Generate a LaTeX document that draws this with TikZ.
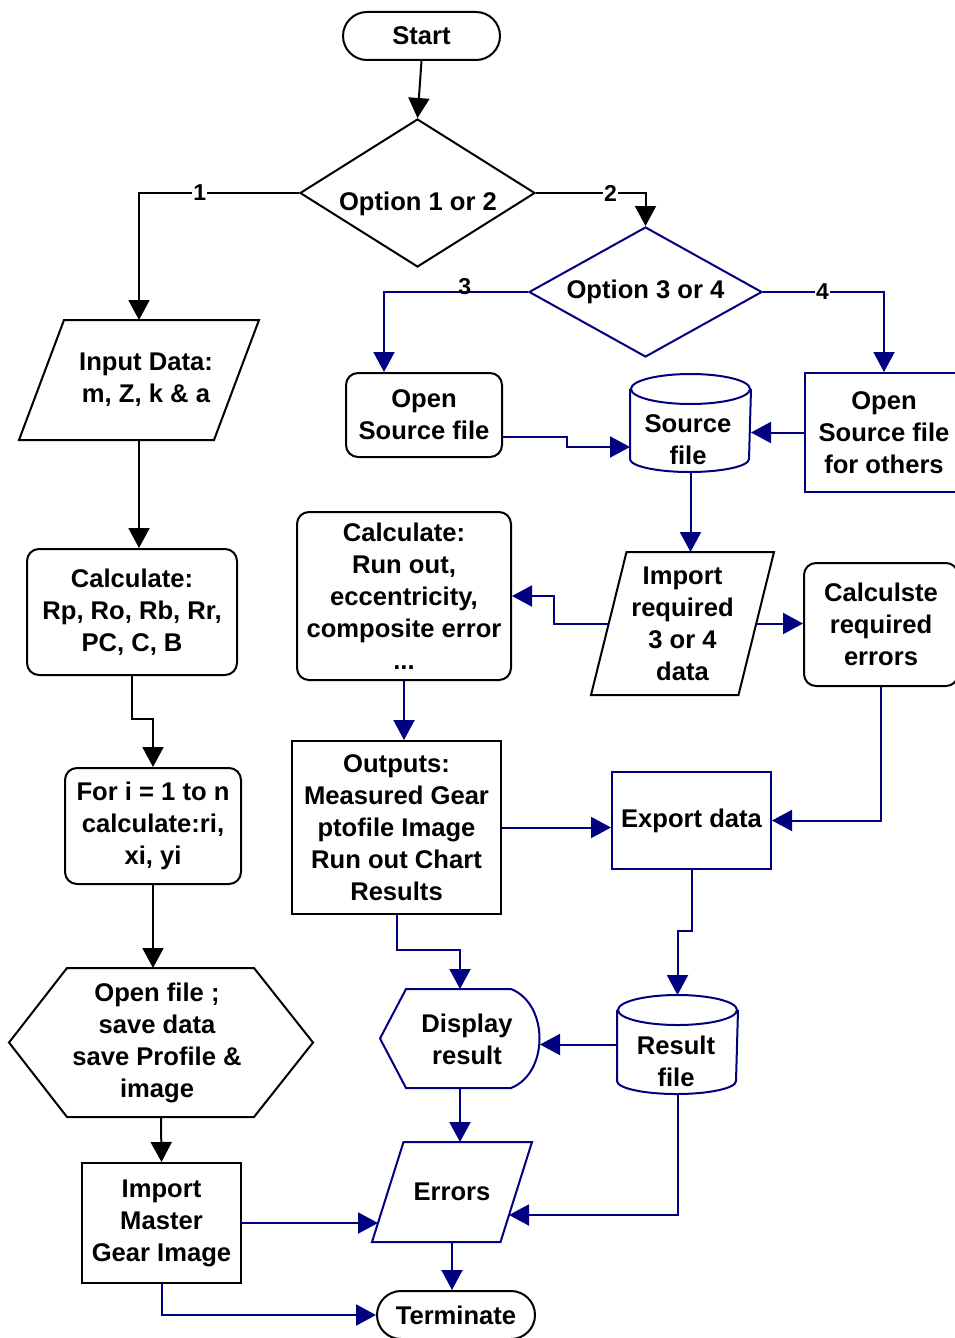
\documentclass[tikz,border=0pt]{standalone}
\usepackage{fontspec}
\setmainfont{Liberation Sans}
\usetikzlibrary{shapes.geometric,arrows.meta,calc}
\definecolor{nvy}{RGB}{0,0,128}
\tikzset{
 base/.style={font=\fontsize{25.6}{32}\selectfont\bfseries, align=center, inner sep=0pt, line width=2pt},
 bk/.style={base, draw=black},
 nb/.style={base, draw=nvy},
 bx/.style={base},
 rnd/.style={rounded corners=12pt},
 wire/.style={line width=2pt, color=black, -{Triangle[length=20pt,width=21pt]}},
 nwire/.style={line width=2pt, color=nvy, -{Triangle[length=20pt,width=21pt]}},
 lbl/.style={font=\fontsize{23}{23}\selectfont\bfseries, text=black, fill=white, inner sep=1pt},
 shpk/.style={line width=2pt, draw=black},
 shpn/.style={line width=2pt, draw=nvy}
}
\begin{document}
\begin{tikzpicture}[x=1pt,y=-1pt]
\useasboundingbox (0,0) rectangle (955,1338);

% ---- nodes ----
\node[bk, rounded corners=24pt, minimum width=157pt, minimum height=48pt] (start) at (421.5,36) {Start};
\node[bk, diamond, aspect=1.59, minimum width=235pt, minimum height=148pt] (opt1) at (417.5,193) {};
\node[base] (opt1t) at (418,204) {Option 1 or 2};
\node[nb, diamond, aspect=1.79, minimum width=233pt, minimum height=130pt] (opt3) at (645.5,292) {Option 3 or 4};

\node[bx, minimum width=238pt, minimum height=118pt] (inp) at (139,380) {};
\node[base] (inpt) at (146,380) {Input Data:\\m, Z, k \& a};
\node[bk, rnd, minimum width=210pt, minimum height=126pt] (crp) at (132,612) {Calculate:\\Rp, Ro, Rb, Rr,\\PC, C, B};
\node[bk, rnd, minimum width=176pt, minimum height=116pt] (fori) at (153,826) {For i = 1 to n\\calculate:ri,\\xi, yi};
\node[bx, minimum width=302pt, minimum height=147pt] (hex) at (161,1042.5) {};
\node[base] (hext) at (157,1043) {Open file ;\\save data\\save Profile \&\\image};
\node[bk, minimum width=159pt, minimum height=120pt] (img) at (161.5,1223) {Import\\Master\\Gear Image};
\node[bk, rounded corners=24pt, minimum width=158pt, minimum height=48pt] (term) at (456,1315) {Terminate};

\node[bk, rnd, minimum width=156pt, minimum height=84pt] (osf) at (424,415) {Open\\Source file};
\node[bx, minimum width=119pt, minimum height=96pt] (srcf) at (690.5,423) {};
\node[base] (srcft) at (688,440) {Source\\file};
\node[nb, minimum width=158pt, minimum height=119pt] (osfo) at (884,432.5) {Open\\Source file\\for others};

\node[bx, minimum width=181pt, minimum height=141pt] (imp) at (682.5,623.5) {Import\\required\\3 or 4\\data};
\node[bk, rnd, minimum width=214pt, minimum height=168pt] (cro) at (404,596) {Calculate:\\Run out,\\eccentricity,\\composite error\\...};
\node[bk, rnd, minimum width=154pt, minimum height=123pt] (cre) at (881,624.5) {Calculste\\required\\errors};
\node[bk, minimum width=209pt, minimum height=173pt] (outp) at (396.5,827.5) {Outputs:\\Measured Gear\\ptofile Image\\Run out Chart\\Results};
\node[nb, minimum width=159pt, minimum height=97pt] (exp) at (691.5,820.5) {Export data};
\node[bx, minimum width=158pt, minimum height=97pt] (disp) at (460,1038.5) {};
\node[base] (dispt) at (467,1039) {Display\\result};
\node[bx, minimum width=119pt, minimum height=97pt] (resf) at (677.5,1044.5) {};
\node[base] (resft) at (676,1061) {Result\\file};
\node[bx, minimum width=158pt, minimum height=98pt] (err) at (452,1192) {Errors};

% ---- custom outlines ----
% parallelograms
\draw[shpk] (inp.south west) -- ($(inp.north west)+(45,0)$) -- (inp.north east) -- ($(inp.south east)+(-45,0)$) -- cycle;
\draw[shpk] (imp.south west) -- ($(imp.north west)+(35.5,0)$) -- (imp.north east) -- ($(imp.south east)+(-35.5,0)$) -- cycle;
\draw[shpn] (err.south west) -- ($(err.north west)+(31.5,0)$) -- (err.north east) -- ($(err.south east)+(-31.5,0)$) -- cycle;
% hexagon
\draw[shpk] (hex.west) -- ($(hex.north west)+(58,0)$) -- ($(hex.north east)+(-59,0)$) -- (hex.east)
  -- ($(hex.south east)+(-59,0)$) -- ($(hex.south west)+(58,0)$) -- cycle;
% display
\draw[shpn] (disp.west) -- ($(disp.north west)+(26,0)$) -- ($(disp.north east)+(-29,0)$)
  .. controls ($(disp.north east)+(9,15)$) and ($(disp.south east)+(9,-15)$) .. ($(disp.south east)+(-29,0)$)
  -- ($(disp.south west)+(26,0)$) -- cycle;
% cylinders
\draw[shpn] ($(srcf.north west)+(0,15)$) -- ($(srcf.south west)+(0,-13)$)
  arc[start angle=180, end angle=360, x radius=59.5pt, y radius=13pt] -- ($(srcf.north east)+(0,15)$);
\draw[shpn] ($(srcf.north)+(0,15)$) ellipse[x radius=59.5pt, y radius=15pt];
\draw[shpn] ($(resf.north west)+(0,15)$) -- ($(resf.south west)+(0,-13)$)
  arc[start angle=180, end angle=360, x radius=59.5pt, y radius=13pt] -- ($(resf.north east)+(0,15)$);
\draw[shpn] ($(resf.north)+(0,15)$) ellipse[x radius=59.5pt, y radius=15pt];

% ---- connector end points ----
\coordinate (osfE) at ($(osf.east)+(0,22)$);
\coordinate (srcW) at ($(srcf.west)+(0,24)$);
\coordinate (impW) at ($(imp.west)+(18,0)$);
\coordinate (impE) at ($(imp.east)+(-18,0)$);
\coordinate (errL) at ($(err.south west)+(6,-18)$);
\coordinate (errR) at ($(err.north east)+(-23,73)$);
\coordinate (osfN) at ($(osf.north west)+(39,0)$);

% ---- black connectors ----
\draw[wire] (start.south) -- (opt1.north);
\draw[wire] (opt1.west) -| node[lbl, pos=0.31]{1} (inp.north);
\draw[wire] (opt1.east) -| node[lbl, pos=0.34]{2} (opt3.north);
\draw[wire] (inp.south) -- (inp.south |- crp.north);
\draw[wire] (crp.south) -- ++(0,43) -| (fori.north);
\draw[wire] (fori.south) -- (fori.south |- hex.north);
\draw[wire] (hex.south) -- (img.north);

% ---- navy connectors ----
\draw[nwire] (opt3.west) -| node[lbl, fill=none, pos=0.22, yshift=5pt]{3} (osfN);
\draw[nwire] (opt3.east) -| node[lbl, pos=0.246]{4} (osfo.north);
\draw[nwire] (osfE) -- ++(64,0) |- (srcW);
\draw[nwire] (osfo.west) -- (osfo.west -| srcf.east);
\draw[nwire] (srcf.south) -- (srcf.south |- imp.north);
\draw[nwire] (impW) -- ++(-55,0) |- (cro.east);
\draw[nwire] (impE) -- (impE -| cre.west);
\draw[nwire] (cre.south) |- (exp.east);
\draw[nwire] (cro.south) -- (cro.south |- outp.north);
\draw[nwire] (outp.east) -- (outp.east -| exp.west);
\draw[nwire] (outp.south) -- ++(0,35) -| (disp.north);
\draw[nwire] (exp.south) -- ++(0,61) -| (resf.north);
\draw[nwire] (resf.west) -- (resf.west -| disp.east);
\draw[nwire] (disp.south) -- (disp.south |- err.north);
\draw[nwire] (resf.south) |- (errR);
\draw[nwire] (img.east) -- (img.east -| errL);
\draw[nwire] (img.south) |- (term.west);
\draw[nwire] (err.south) -- (err.south |- term.north);
\end{tikzpicture}
\end{document}
